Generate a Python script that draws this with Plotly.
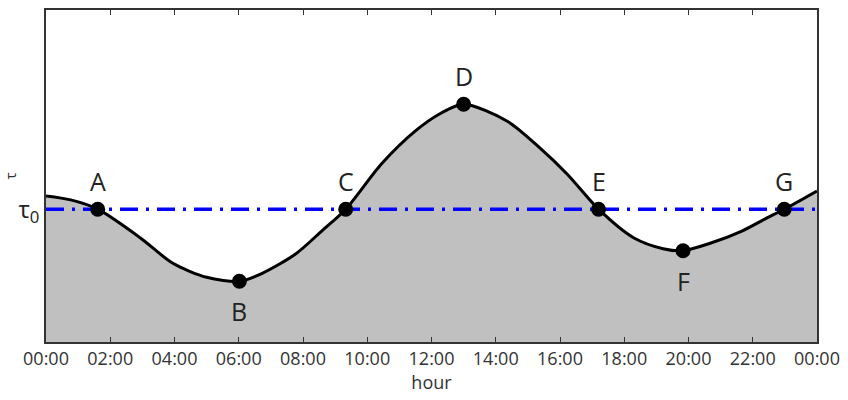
import plotly.graph_objects as go

# curve samples (hour, tau in arbitrary units)
curve_hours = [0.0, 0.77, 1.61, 2.93, 3.95, 5.0, 6.02, 6.73, 7.78, 8.59, 9.33,
               10.44, 11.49, 12.29, 13.0, 14.36, 15.38, 16.22, 17.2, 18.29,
               19.21, 19.83, 20.63, 21.68, 22.39, 22.98, 24.0]
curve_tau = [4.40, 4.28, 4.0, 3.14, 2.37, 1.95, 1.83, 2.07, 2.66, 3.35, 4.0,
             5.36, 6.35, 6.89, 7.16, 6.65, 5.84, 5.06, 4.0, 3.14,
             2.81, 2.75, 2.96, 3.35, 3.71, 4.0, 4.55]

point_labels = ["A", "B", "C", "D", "E", "F", "G"]
point_hours = [1.61, 6.02, 9.33, 13.0, 17.2, 19.83, 22.98]
point_tau = [4.0, 1.83, 4.0, 7.16, 4.0, 2.75, 4.0]
label_side = ["above", "below", "above", "above", "above", "below", "above"]

tau0 = 4.0
tick_hours = list(range(0, 25, 2))
tick_labels = ["00:00", "02:00", "04:00", "06:00", "08:00", "10:00", "12:00",
               "14:00", "16:00", "18:00", "20:00", "22:00", "00:00"]

fig = go.Figure()
fig.add_trace(go.Scatter(
    x=curve_hours, y=curve_tau, mode="lines",
    line=dict(color="black", width=3, shape="spline", smoothing=0.8),
    fill="tozeroy", fillcolor="#c0c0c0", hoverinfo="skip"))
fig.add_trace(go.Scatter(
    x=[0, 24], y=[tau0, tau0], mode="lines",
    line=dict(color="#0000ff", width=3.5, dash="18px,8px,3px,8px")))
fig.add_trace(go.Scatter(
    x=point_hours, y=point_tau, mode="markers",
    marker=dict(color="black", size=15)))

for lab, h, t, side in zip(point_labels, point_hours, point_tau, label_side):
    fig.add_annotation(x=h, y=t, text=lab, showarrow=False,
                       yshift=28 if side == "above" else -30,
                       font=dict(family="Open Sans", size=25, color="#222"))

fig.update_layout(
    width=848, height=400,
    margin=dict(l=45, r=26, t=8, b=58),
    paper_bgcolor="white", plot_bgcolor="white",
    showlegend=False,
    font=dict(family="Open Sans", color="#333"),
)
fig.update_xaxes(
    range=[0, 24], tickvals=tick_hours, ticktext=tick_labels,
    ticks="inside", ticklen=5, tickcolor="#333", tickwidth=1,
    showline=True, linecolor="#333", linewidth=1.5, mirror="ticks",
    showgrid=False, zeroline=False,
    tickfont=dict(family="Open Sans", size=18, color="#333"),
    title=dict(text="hour", font=dict(family="Open Sans", size=18, color="#333"), standoff=6),
)
fig.update_yaxes(
    range=[0, 10], tickvals=[tau0], ticktext=["τ<sub>0</sub>"],
    ticks="", showline=True, linecolor="#333", linewidth=1.5, mirror=True,
    showgrid=False, zeroline=False,
    tickfont=dict(family="Open Sans", size=24, color="#222"),
    title=dict(text="τ", font=dict(family="Open Sans", size=15, color="#333"), standoff=0),
)

fig.write_html("out.html")
